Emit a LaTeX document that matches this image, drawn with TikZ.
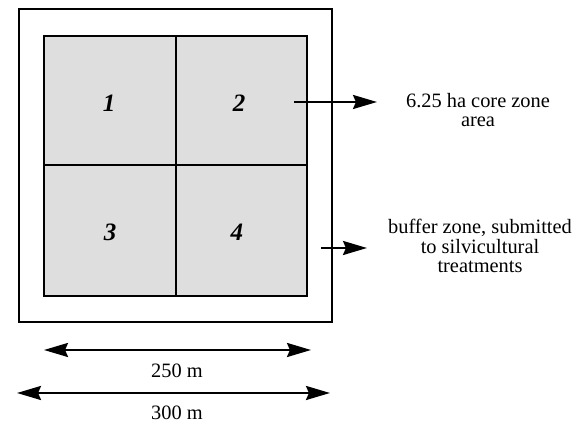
\documentclass[tikz,border=0pt]{standalone}
\usepackage{fontspec}
\setmainfont{Liberation Serif}
\usetikzlibrary{arrows.meta}
\begin{document}
\begin{tikzpicture}[x=0.5pt,y=-0.5pt,line join=miter,line cap=butt,
	>={Stealth[length=12pt,width=7pt,inset=1.5pt]},
	font=\fontsize{10.2}{9.6}\selectfont,
	cell/.style={fill=black!13,draw,line width=1.1pt},
	plotnum/.style={font=\fontsize{12.5}{13}\selectfont\bfseries\itshape},
	dimarrow/.style={<->,line width=1.2pt}]
	\useasboundingbox (0,0) rectangle (580,426);
	\coordinate (O1) at (19,9);    % outer corner
	\coordinate (O2) at (332,322);
	\coordinate (I1) at (44,36);   % core square
	\coordinate (I2) at (307,296);
	\coordinate (M) at (176,165);
	\coordinate (P) at (294,102);  % arrow to core zone
	\coordinate (Q) at (377,102);
	\coordinate (R) at (321,248);  % arrow to buffer
	\coordinate (S) at (367,248);
	\coordinate (D1) at (44,350);  % 250 m
	\coordinate (D2) at (311,350);
	\coordinate (E1) at (17,393);  % 300 m
	\coordinate (E2) at (330,393);
	
	\draw[line width=1.1pt] (O1) rectangle (O2);
	\path[cell] (I1) rectangle (I2);
	\draw[line width=1.1pt] (I1 -| M) -- (I2 -| M);
	\draw[line width=1.1pt] (I1 |- M) -- (I2 |- M);
	
	\node[plotnum] (n1) at (109,103) {1};
	\node[plotnum] (n2) at (239,103) {2};
	\node[plotnum] (n3) at (110,232) {3};
	\node[plotnum] (n4) at (237,232) {4};
	
	\draw[->,line width=1.2pt] (P) -- (Q);
	\draw[->,line width=1.2pt] (R) -- (S);
	\node[align=center] (core) at (478,110) {6.25 ha core zone\\area};
	\node[align=center] (buffer) at (480,246) {buffer zone, submitted\\to silvicultural\\treatments};
	
	\draw[dimarrow] (D1) -- (D2);
	\draw[dimarrow] (E1) -- (E2);
	\node (inner) at (177,371) {250 m};
	\node (outer) at (177,413) {300 m};
\end{tikzpicture}
\end{document}
